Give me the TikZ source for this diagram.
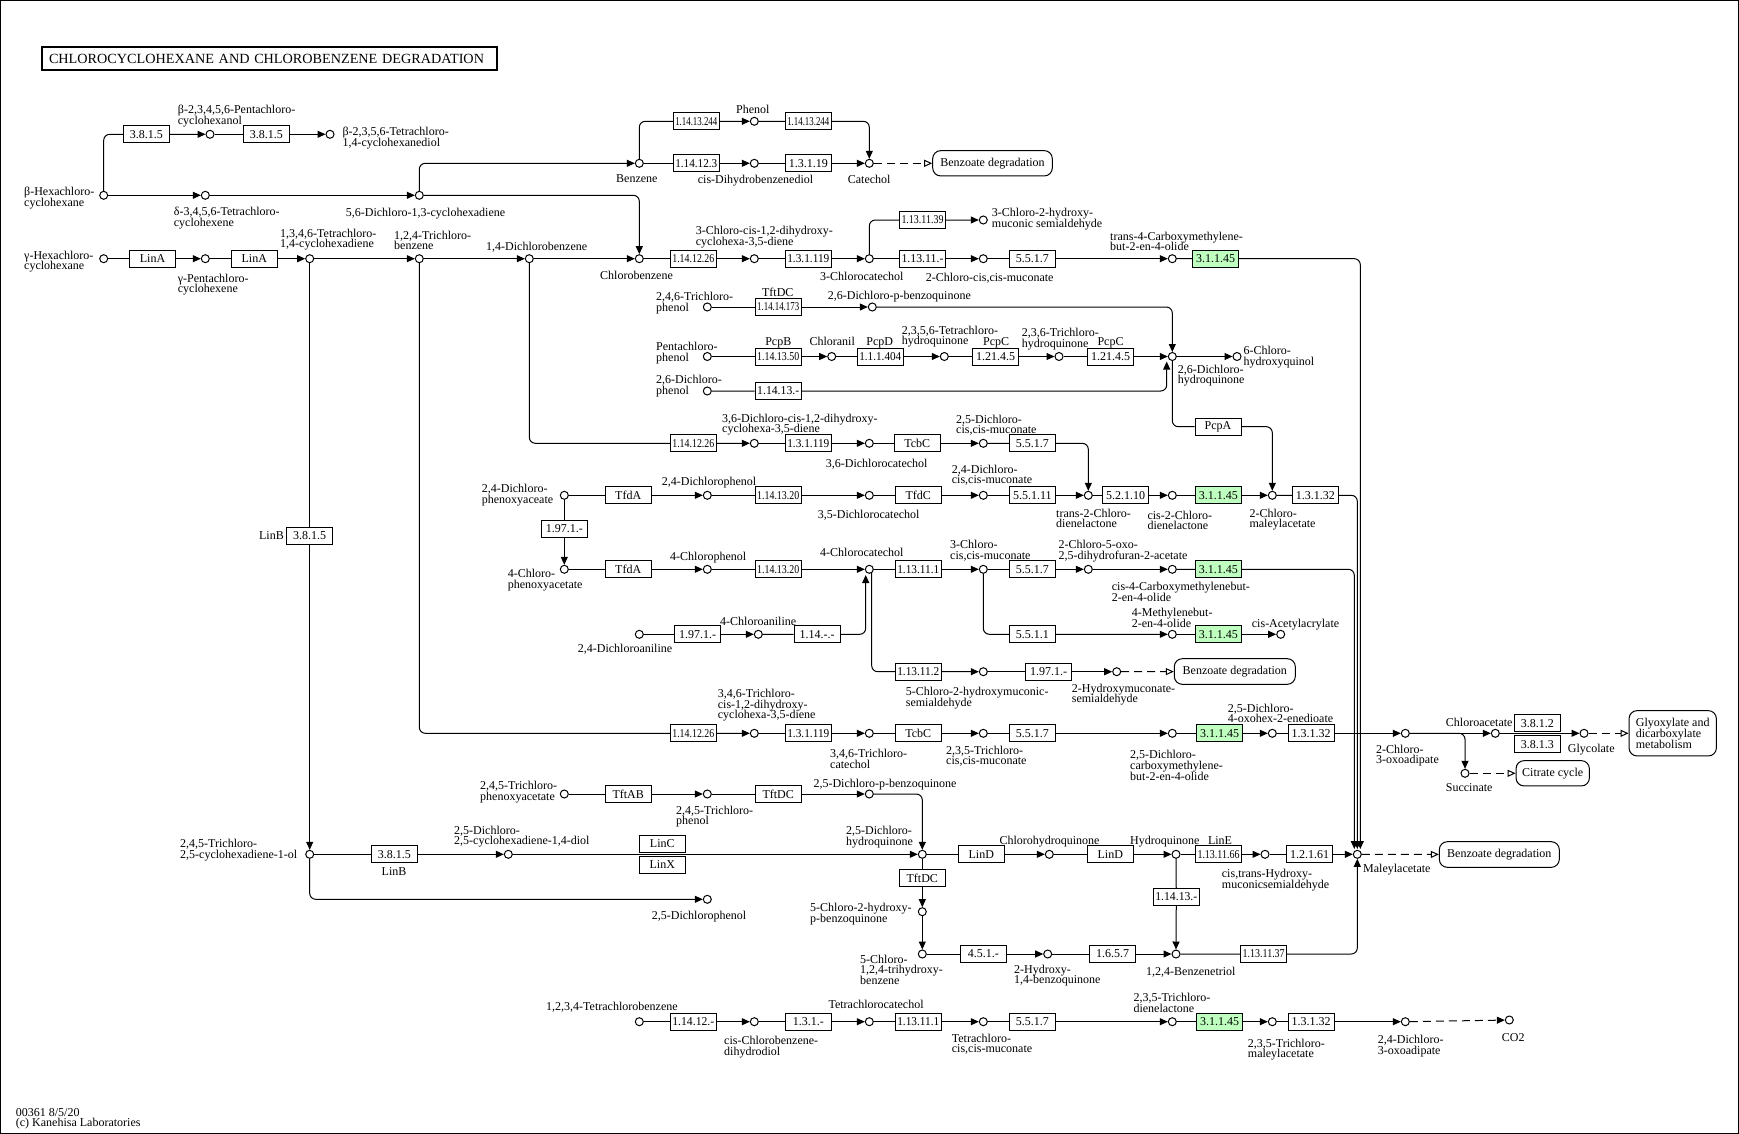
\documentclass[tikz,border=0pt]{standalone}
\usepackage{fontspec}
\setmainfont{Liberation Serif}
\usepackage{graphicx}
\usetikzlibrary{arrows.meta}
\definecolor{ecgreen}{RGB}{191,255,191}
\lineskiplimit=-20pt
\newsavebox\ecbox
\newcommand\ecn[1]{\sbox\ecbox{#1}\ifdim\wd\ecbox>42pt\resizebox{42pt}{\height}{#1}\else#1\fi}
\tikzset{
  cpd/.style={circle, draw, line width=1pt, fill=white, minimum size=8pt, inner sep=0pt},
  ec/.style={draw, line width=1pt, fill=white, minimum width=46pt, minimum height=17pt, inner sep=0pt},
  ecg/.style={ec, fill=ecgreen},
  mapbox/.style={draw, line width=1pt, rounded corners=8pt, inner sep=0pt, align=left},
  lbl/.style={inner sep=0pt, align=left, anchor=north west},
  elbl/.style={inner sep=0pt, anchor=north},
  rxn/.style={line width=1pt, rounded corners=6pt, -{Triangle[length=8pt,width=7pt]}},
  link/.style={line width=1pt, dash pattern=on 8pt off 5pt, -{Triangle[open,length=8pt,width=7pt]}}
}
\begin{document}
\begin{tikzpicture}[x=1pt,y=-1pt,every node/.append style={font=\fontsize{12}{10.6}\selectfont}]
\useasboundingbox (0,0) rectangle (1739,1134);
\draw[line width=1pt] (0.5,0.5) rectangle (1738.5,1133.5);
\node[draw, line width=2pt, minimum width=455pt, minimum height=23pt, inner sep=0pt, text width=441pt, align=left, font=\fontsize{14}{14}\selectfont] (title) at (269.5,58.5) {\resizebox{435pt}{\height}{CHLOROCYCLOHEXANE AND CHLOROBENZENE DEGRADATION}};
% compounds
\node[cpd] (bhch) at (103.7,195.3) {};
\node[cpd] (pcho) at (210,134.3) {};
\node[cpd] (tcd) at (330,134.3) {};
\node[cpd] (dtch) at (205.3,195.3) {};
\node[cpd] (dcd) at (419.3,195.3) {};
\node[cpd] (bz) at (639.3,163.3) {};
\node[cpd] (phe) at (754.3,121.3) {};
\node[cpd] (cdbd) at (754.3,163.3) {};
\node[cpd] (cat) at (869.3,163.3) {};
\node[cpd] (ghch) at (103.7,258.7) {};
\node[cpd] (gpch) at (205.3,258.7) {};
\node[cpd] (tcdn) at (309.7,258.7) {};
\node[cpd] (tcb) at (419.3,258.7) {};
\node[cpd] (dcb) at (529.3,258.7) {};
\node[cpd] (cb) at (639.3,258.7) {};
\node[cpd] (ccd) at (754.3,258.7) {};
\node[cpd] (ccat) at (869.3,258.7) {};
\node[cpd] (chms) at (983.3,220) {};
\node[cpd] (ccm) at (983.3,258.7) {};
\node[cpd] (tcmb) at (1172.3,258.7) {};
\node[cpd] (tcp) at (707.3,307) {};
\node[cpd] (dcbq) at (872.3,307) {};
\node[cpd] (pcp) at (707.3,356.5) {};
\node[cpd] (chl) at (831.7,356.5) {};
\node[cpd] (tchq) at (944.3,356.5) {};
\node[cpd] (trhq) at (1059,356.5) {};
\node[cpd] (dchq) at (1172.3,356.5) {};
\node[cpd] (chq6) at (1237,356.5) {};
\node[cpd] (dcp26) at (707.3,391) {};
\node[cpd] (dcd36) at (754.3,443.3) {};
\node[cpd] (dcc36) at (869.3,443.3) {};
\node[cpd] (dcm25) at (983.3,443.3) {};
\node[cpd] (dpa) at (564.3,495.3) {};
\node[cpd] (dcp24) at (707.3,495.3) {};
\node[cpd] (dcc35) at (869.3,495.3) {};
\node[cpd] (dcm24) at (983.3,495.3) {};
\node[cpd] (tcdl) at (1088.3,495.3) {};
\node[cpd] (ccdl) at (1172.3,495.3) {};
\node[cpd] (cma) at (1272.3,495.3) {};
\node[cpd] (cpa) at (564.3,569.3) {};
\node[cpd] (cp4) at (707.3,569.3) {};
\node[cpd] (cc4) at (869.3,569.3) {};
\node[cpd] (ccm3) at (983.3,569.3) {};
\node[cpd] (cdfa) at (1088.3,569.3) {};
\node[cpd] (ccmb) at (1172.3,569.3) {};
\node[cpd] (mbo) at (1172.3,634.3) {};
\node[cpd] (caa) at (1280.7,634.3) {};
\node[cpd] (dca) at (639.3,634.3) {};
\node[cpd] (ca4) at (758.3,634.3) {};
\node[cpd] (chms5) at (983.3,671.7) {};
\node[cpd] (hms) at (1116.7,671.7) {};
\node[cpd] (tcd346) at (754.3,733.3) {};
\node[cpd] (tcc346) at (869.3,733.3) {};
\node[cpd] (tcm235) at (983.3,733.3) {};
\node[cpd] (dccm) at (1172.3,733.3) {};
\node[cpd] (doh) at (1272.3,733.3) {};
\node[cpd] (coa) at (1405.3,733.3) {};
\node[cpd] (cla) at (1495.3,733.3) {};
\node[cpd] (gly) at (1584,733.3) {};
\node[cpd] (suc) at (1465,773.3) {};
\node[cpd] (tpa) at (564.3,794) {};
\node[cpd] (tcp245) at (707.3,794) {};
\node[cpd] (dcbq25) at (869.3,794) {};
\node[cpd] (tcol) at (309.7,854.3) {};
\node[cpd] (dcdl) at (508.3,854.3) {};
\node[cpd] (dchq25) at (922.3,854.3) {};
\node[cpd] (chq) at (1049.3,854.3) {};
\node[cpd] (hq) at (1176,854.3) {};
\node[cpd] (hmsa) at (1265,854.3) {};
\node[cpd] (mla) at (1357.3,854.3) {};
\node[cpd] (dcp25) at (707.3,899.3) {};
\node[cpd] (chbq) at (922.3,911.7) {};
\node[cpd] (cthb) at (922.3,954) {};
\node[cpd] (hbq) at (1047.7,954) {};
\node[cpd] (bt) at (1176,954) {};
\node[cpd] (tecb) at (639.3,1021.7) {};
\node[cpd] (ccbd) at (754.3,1021.7) {};
\node[cpd] (tecc) at (869.3,1021.7) {};
\node[cpd] (tecm) at (983.3,1021.7) {};
\node[cpd] (tcdl235) at (1172.3,1021.7) {};
\node[cpd] (tcma) at (1272.3,1021.7) {};
\node[cpd] (dcoa) at (1405.3,1021.7) {};
\node[cpd] (co2) at (1509.3,1020) {};
\coordinate (mlaT1) at (1354.3,849);
\coordinate (mlaT2) at (1357.3,849);
\coordinate (mlaT3) at (1360.3,849);
\coordinate (dchqB) at (1166.7,361.5);
\coordinate (cc4B) at (865.7,575);
\coordinate (cc4D) at (871.7,572.8);
% enzymes
\node[ec] (eA1) at (146.3,134.3) {\ecn{3.8.1.5}};
\node[ec] (eA2) at (266.3,134.3) {\ecn{3.8.1.5}};
\node[ec] (eBp1) at (696.3,121.3) {\ecn{1.14.13.244}};
\node[ec] (eBp2) at (808.3,121.3) {\ecn{1.14.13.244}};
\node[ec] (eB1) at (696.3,163.3) {\ecn{1.14.12.3}};
\node[ec] (eB2) at (808.3,163.3) {\ecn{1.3.1.19}};
\node[ec] (eE1) at (152.5,258.7) {LinA};
\node[ec] (eE2) at (254.3,258.7) {LinA};
\node[ec] (eE3) at (693.3,258.7) {\ecn{1.14.12.26}};
\node[ec] (eE4) at (808.3,258.7) {\ecn{1.3.1.119}};
\node[ec] (eD1) at (922.5,220) {\ecn{1.13.11.39}};
\node[ec] (eE5) at (922.5,258.7) {\ecn{1.13.11.-}};
\node[ec] (eE6) at (1032.3,258.7) {\ecn{5.5.1.7}};
\node[ecg] (eE7) at (1215.5,258.7) {\ecn{3.1.1.45}};
\node[ec] (eF1) at (778.2,307) {\ecn{1.14.14.173}};
\node[ec] (eG1) at (778.2,356.5) {\ecn{1.14.13.50}};
\node[ec] (eG2) at (880.3,356.5) {\ecn{1.1.1.404}};
\node[ec] (eG3) at (995.7,356.5) {\ecn{1.21.4.5}};
\node[ec] (eG4) at (1110.5,356.5) {\ecn{1.21.4.5}};
\node[ec] (eH1) at (778.2,391) {\ecn{1.14.13.-}};
\node[ec] (eI1) at (1218,426.7) {PcpA};
\node[ec] (eJ1) at (693.3,443.3) {\ecn{1.14.12.26}};
\node[ec] (eJ2) at (808.3,443.3) {\ecn{1.3.1.119}};
\node[ec] (eJ3) at (917.3,443.3) {TcbC};
\node[ec] (eJ4) at (1032.3,443.3) {\ecn{5.5.1.7}};
\node[ec] (eK1) at (628.2,495.3) {TfdA};
\node[ec] (eK2) at (778.2,495.3) {\ecn{1.14.13.20}};
\node[ec] (eK3) at (918.3,495.3) {TfdC};
\node[ec] (eK4) at (1032.3,495.3) {\ecn{5.5.1.11}};
\node[ec] (eK5) at (1125.5,495.3) {\ecn{5.2.1.10}};
\node[ecg] (eK6) at (1218.3,495.3) {\ecn{3.1.1.45}};
\node[ec] (eK7) at (1315.3,495.3) {\ecn{1.3.1.32}};
\node[ec] (eL1) at (564.3,528.7) {\ecn{1.97.1.-}};
\node[ec] (eM1) at (628.2,569.3) {TfdA};
\node[ec] (eM2) at (778.2,569.3) {\ecn{1.14.13.20}};
\node[ec] (eM3) at (918.3,569.3) {\ecn{1.13.11.1}};
\node[ec] (eM4) at (1032.3,569.3) {\ecn{5.5.1.7}};
\node[ecg] (eM5) at (1218.3,569.3) {\ecn{3.1.1.45}};
\node[ec] (eN1) at (1032.3,634.3) {\ecn{5.5.1.1}};
\node[ecg] (eN2) at (1218.3,634.3) {\ecn{3.1.1.45}};
\node[ec] (eN3) at (697.5,634.3) {\ecn{1.97.1.-}};
\node[ec] (eN4) at (817.2,634.3) {\ecn{1.14.-.-}};
\node[ec] (eO1) at (918.3,671.7) {\ecn{1.13.11.2}};
\node[ec] (eO2) at (1048.7,671.7) {\ecn{1.97.1.-}};
\node[ec] (eP1) at (693.3,733.3) {\ecn{1.14.12.26}};
\node[ec] (eP2) at (808.3,733.3) {\ecn{1.3.1.119}};
\node[ec] (eP3) at (918.3,733.3) {TcbC};
\node[ec] (eP4) at (1032.3,733.3) {\ecn{5.5.1.7}};
\node[ecg] (eP5) at (1219.5,733.3) {\ecn{3.1.1.45}};
\node[ec] (eP6) at (1311,733.3) {\ecn{1.3.1.32}};
\node[ec] (eP7) at (1537.3,723.3) {\ecn{3.8.1.2}};
\node[ec] (eP8) at (1537.3,744.2) {\ecn{3.8.1.3}};
\node[ec] (eR1) at (628.2,794) {TftAB};
\node[ec] (eR2) at (778.2,794) {TftDC};
\node[ec] (eLinB) at (309.7,535.7) {\ecn{3.8.1.5}};
\node[ec] (eS1) at (394.3,854.3) {\ecn{3.8.1.5}};
\node[ec] (eLinC) at (662.3,844) {LinC};
\node[ec] (eLinX) at (662.3,865) {LinX};
\node[ec] (eS2) at (981.3,854.3) {LinD};
\node[ec] (eS3) at (1110.3,854.3) {LinD};
\node[ec] (eS4) at (1218.5,854.3) {\ecn{1.13.11.66}};
\node[ec] (eS5) at (1309.5,854.3) {\ecn{1.2.1.61}};
\node[ec] (eU1) at (922.3,878) {TftDC};
\node[ec] (eV1) at (983.3,954) {\ecn{4.5.1.-}};
\node[ec] (eV2) at (1112.5,954) {\ecn{1.6.5.7}};
\node[ec] (eV3) at (1263.7,954) {\ecn{1.13.11.37}};
\node[ec] (eV4) at (1176.3,897) {\ecn{1.14.13.-}};
\node[ec] (eW1) at (693.3,1021.7) {\ecn{1.14.12.-}};
\node[ec] (eW2) at (808.3,1021.7) {\ecn{1.3.1.-}};
\node[ec] (eW3) at (918.3,1021.7) {\ecn{1.13.11.1}};
\node[ec] (eW4) at (1032.3,1021.7) {\ecn{5.5.1.7}};
\node[ecg] (eW5) at (1219.5,1021.7) {\ecn{3.1.1.45}};
\node[ec] (eW6) at (1311,1021.7) {\ecn{1.3.1.32}};
% maps
\node[mapbox, minimum width=119.6pt, minimum height=25.3pt] (mapBz1) at (992.5,163.3) {Benzoate degradation};
\node[mapbox, minimum width=121pt, minimum height=25.6pt] (mapBz2) at (1234.8,671.5) {Benzoate degradation};
\node[mapbox, minimum width=120pt, minimum height=25.6pt] (mapBz3) at (1499.3,854.5) {Benzoate degradation};
\node[mapbox, minimum width=87.3pt, minimum height=45.3pt] (mapGly) at (1672.7,733.3) {Glyoxylate and\\dicarboxylate\\metabolism};
\node[mapbox, minimum width=73.3pt, minimum height=25.3pt] (mapTca) at (1552.7,773.3) {Citrate cycle};
% labels
\node[lbl] (bhchL) at (24,187) {β-Hexachloro-\\cyclohexane};
\node[lbl] (pchoL) at (177.7,105.3) {β-2,3,4,5,6-Pentachloro-\\cyclohexanol};
\node[lbl] (tcdL) at (342.3,127) {β-2,3,5,6-Tetrachloro-\\1,4-cyclohexanediol};
\node[lbl] (dtchL) at (173.7,207.3) {δ-3,4,5,6-Tetrachloro-\\cyclohexene};
\node[lbl] (dcdL) at (345.7,207.6) {5,6-Dichloro-1,3-cyclohexadiene};
\node[lbl] (bzL) at (616,174.6) {Benzene};
\node[lbl] (pheL) at (736,105.3) {Phenol};
\node[lbl] (cdbdL) at (697.7,175.3) {cis-Dihydrobenzenediol};
\node[lbl] (catL) at (847.7,175.3) {Catechol};
\node[lbl] (ghchL) at (24,250.6) {γ-Hexachloro-\\cyclohexane};
\node[lbl] (gpchL) at (177.7,273.6) {γ-Pentachloro-\\cyclohexene};
\node[lbl] (tcdnL) at (280,228.6) {1,3,4,6-Tetrachloro-\\1,4-cyclohexadiene};
\node[lbl] (tcbL) at (394,230.6) {1,2,4-Trichloro-\\benzene};
\node[lbl] (dcbL) at (486,242.3) {1,4-Dichlorobenzene};
\node[lbl] (cbL) at (600,271.3) {Chlorobenzene};
\node[lbl] (ccdL) at (695.7,226.3) {3-Chloro-cis-1,2-dihydroxy-\\cyclohexa-3,5-diene};
\node[lbl] (ccatL) at (820,271.6) {3-Chlorocatechol};
\node[lbl] (chmsL) at (991.7,208.3) {3-Chloro-2-hydroxy-\\muconic semialdehyde};
\node[lbl] (ccmL) at (925.7,273.3) {2-Chloro-cis,cis-muconate};
\node[lbl] (tcmbL) at (1110,231.6) {trans-4-Carboxymethylene-\\but-2-en-4-olide};
\node[lbl] (tcpL) at (656,292.3) {2,4,6-Trichloro-\\phenol};
\node[elbl] (eF1n) at (777.8,288.3) {TftDC};
\node[lbl] (dcbqL) at (827.7,291) {2,6-Dichloro-p-benzoquinone};
\node[lbl] (pcpL) at (656,342.3) {Pentachloro-\\phenol};
\node[elbl] (eG1n) at (778.3,337) {PcpB};
\node[lbl] (chlL) at (809.3,337) {Chloranil};
\node[elbl] (eG2n) at (879.7,337) {PcpD};
\node[lbl] (tchqL) at (901.7,325.6) {2,3,5,6-Tetrachloro-\\hydroquinone};
\node[elbl] (eG3n) at (996.2,337) {PcpC};
\node[lbl] (trhqL) at (1021.7,328.3) {2,3,6-Trichloro-\\hydroquinone};
\node[elbl] (eG4n) at (1110.5,337) {PcpC};
\node[lbl] (chq6L) at (1243.3,346.3) {6-Chloro-\\hydroxyquinol};
\node[lbl] (dchqL) at (1177.7,364.6) {2,6-Dichloro-\\hydroquinone};
\node[lbl] (dcp26L) at (656,375.3) {2,6-Dichloro-\\phenol};
\node[lbl] (dcd36L) at (722,413.6) {3,6-Dichloro-cis-1,2-dihydroxy-\\cyclohexa-3,5-diene};
\node[lbl] (dcc36L) at (825.7,459) {3,6-Dichlorocatechol};
\node[lbl] (dcm25L) at (956,414.6) {2,5-Dichloro-\\cis,cis-muconate};
\node[lbl] (dpaL) at (481.7,484) {2,4-Dichloro-\\phenoxyaceate};
\node[lbl] (dcp24L) at (661.7,477) {2,4-Dichlorophenol};
\node[lbl] (dcc35L) at (817.7,510.3) {3,5-Dichlorocatechol};
\node[lbl] (dcm24L) at (951.7,464.6) {2,4-Dichloro-\\cis,cis-muconate};
\node[lbl] (tcdlL) at (1056,508.6) {trans-2-Chloro-\\dienelactone};
\node[lbl] (ccdlL) at (1147.3,510.6) {cis-2-Chloro-\\dienelactone};
\node[lbl] (cmaL) at (1249.3,508.6) {2-Chloro-\\maleylacetate};
\node[lbl] (cpaL) at (507.7,569) {4-Chloro-\\phenoxyacetate};
\node[lbl] (cp4L) at (670,552) {4-Chlorophenol};
\node[lbl] (cc4L) at (820,548.3) {4-Chlorocatechol};
\node[lbl] (ccm3L) at (950,540.3) {3-Chloro-\\cis,cis-muconate};
\node[lbl] (cdfaL) at (1058.3,540.3) {2-Chloro-5-oxo-\\2,5-dihydrofuran-2-acetate};
\node[lbl] (ccmbL) at (1111.7,582.3) {cis-4-Carboxymethylenebut-\\2-en-4-olide};
\node[lbl] (mboL) at (1131.7,608) {4-Methylenebut-\\2-en-4-olide};
\node[lbl] (caaL) at (1251.7,618.6) {cis-Acetylacrylate};
\node[lbl] (dcaL) at (577.7,643.6) {2,4-Dichloroaniline};
\node[lbl] (ca4L) at (720,617) {4-Chloroaniline};
\node[lbl] (chms5L) at (905.7,687) {5-Chloro-2-hydroxymuconic-\\semialdehyde};
\node[lbl] (hmsL) at (1071.7,683.6) {2-Hydroxymuconate-\\semialdehyde};
\node[lbl] (tcd346L) at (717.7,689) {3,4,6-Trichloro-\\cis-1,2-dihydroxy-\\cyclohexa-3,5-diene};
\node[lbl] (tcc346L) at (830,749) {3,4,6-Trichloro-\\catechol};
\node[lbl] (tcm235L) at (946,745.8) {2,3,5-Trichloro-\\cis,cis-muconate};
\node[lbl] (dccmL) at (1130,750.3) {2,5-Dichloro-\\carboxymethylene-\\but-2-en-4-olide};
\node[lbl] (dohL) at (1227.7,703.6) {2,5-Dichloro-\\4-oxohex-2-enedioate};
\node[lbl] (coaL) at (1376,744.6) {2-Chloro-\\3-oxoadipate};
\node[lbl] (claL) at (1445.7,718) {Chloroacetate};
\node[lbl] (glyL) at (1567.7,744) {Glycolate};
\node[lbl] (sucL) at (1445.7,783) {Succinate};
\node[lbl] (tpaL) at (480,781.3) {2,4,5-Trichloro-\\phenoxyacetate};
\node[lbl] (tcp245L) at (676,805.6) {2,4,5-Trichloro-\\phenol};
\node[lbl] (dcbq25L) at (813.3,778.6) {2,5-Dichloro-p-benzoquinone};
\node[lbl] (tcolL) at (180,839) {2,4,5-Trichloro-\\2,5-cyclohexadiene-1-ol};
\node[inner sep=0pt, anchor=east] (eLinBn) at (284,535.7) {LinB};
\node[elbl] (eS1n) at (394,867) {LinB};
\node[lbl] (dcdlL) at (454,825.6) {2,5-Dichloro-\\2,5-cyclohexadiene-1,4-diol};
\node[lbl] (dchq25L) at (846,826.3) {2,5-Dichloro-\\hydroquinone};
\node[lbl] (chqL) at (999.3,836.3) {Chlorohydroquinone};
\node[lbl] (hqL) at (1130,836.3) {Hydroquinone};
\node[elbl] (eS4n) at (1220,836.3) {LinE};
\node[lbl] (hmsaL) at (1221.7,869) {cis,trans-Hydroxy-\\muconicsemialdehyde};
\node[lbl] (mlaL) at (1363,863.6) {Maleylacetate};
\node[lbl] (dcp25L) at (651.7,911.3) {2,5-Dichlorophenol};
\node[lbl] (chbqL) at (810,903) {5-Chloro-2-hydroxy-\\p-benzoquinone};
\node[lbl] (cthbL) at (860,954.6) {5-Chloro-\\1,2,4-trihydroxy-\\benzene};
\node[lbl] (hbqL) at (1014,964.6) {2-Hydroxy-\\1,4-benzoquinone};
\node[lbl] (btL) at (1146,967) {1,2,4-Benzenetriol};
\node[lbl] (tecbL) at (546,1002.3) {1,2,3,4-Tetrachlorobenzene};
\node[lbl] (ccbdL) at (724,1036.3) {cis-Chlorobenzene-\\dihydrodiol};
\node[lbl] (teccL) at (828.3,1000.3) {Tetrachlorocatechol};
\node[lbl] (tecmL) at (951.7,1033.6) {Tetrachloro-\\cis,cis-muconate};
\node[lbl] (tcdl235L) at (1133.3,993) {2,3,5-Trichloro-\\dienelactone};
\node[lbl] (tcmaL) at (1247.7,1038.6) {2,3,5-Trichloro-\\maleylacetate};
\node[lbl] (dcoaL) at (1377.7,1035.3) {2,4-Dichloro-\\3-oxoadipate};
\node[lbl] (co2L) at (1501.7,1033.6) {CO2};
\node[lbl] (footer) at (15.7,1108) {00361 8/5/20\\(c) Kanehisa Laboratories};
% reactions
\draw[rxn] (bhch) |- (eA1) -- (pcho);
\draw[rxn] (pcho) -- (eA2) -- (tcd);
\draw[rxn] (bhch) -- (dtch);
\draw[rxn] (dtch) -- (dcd);
\draw[rxn] (dcd) |- (bz);
\draw[rxn] (dcd) -| (cb);
\draw[rxn] (bz) |- (eBp1) -- (phe);
\draw[rxn] (phe) -- (eBp2) -| (cat);
\draw[rxn] (bz) -- (eB1) -- (cdbd);
\draw[rxn] (cdbd) -- (eB2) -- (cat);
\draw[link] (cat) -- (mapBz1);
\draw[rxn] (ghch) -- (eE1) -- (gpch);
\draw[rxn] (gpch) -- (eE2) -- (tcdn);
\draw[rxn] (tcdn) -- (tcb);
\draw[rxn] (tcb) -- (dcb);
\draw[rxn] (dcb) -- (cb);
\draw[rxn] (cb) -- (eE3) -- (ccd);
\draw[rxn] (ccd) -- (eE4) -- (ccat);
\draw[rxn] (ccat) |- (eD1) -- (chms);
\draw[rxn] (ccat) -- (eE5) -- (ccm);
\draw[rxn] (ccm) -- (eE6) -- (tcmb);
\draw[rxn] (tcmb) -- (eE7) -| (mlaT3);
\draw[rxn] (tcp) -- (eF1) -- (dcbq);
\draw[rxn] (dcbq) -| (dchq);
\draw[rxn] (pcp) -- (eG1) -- (chl);
\draw[rxn] (chl) -- (eG2) -- (tchq);
\draw[rxn] (tchq) -- (eG3) -- (trhq);
\draw[rxn] (trhq) -- (eG4) -- (dchq);
\draw[rxn] (dchq) -- (chq6);
\draw[rxn] (dcp26) -- (eH1) -| (dchqB);
\draw[rxn] (dchq) |- (eI1) -| (cma);
\draw[rxn] (dcb) |- (eJ1) -- (dcd36);
\draw[rxn] (dcd36) -- (eJ2) -- (dcc36);
\draw[rxn] (dcc36) -- (eJ3) -- (dcm25);
\draw[rxn] (dcm25) -- (eJ4) -| (tcdl);
\draw[rxn] (dpa) -- (eK1) -- (dcp24);
\draw[rxn] (dcp24) -- (eK2) -- (dcc35);
\draw[rxn] (dcc35) -- (eK3) -- (dcm24);
\draw[rxn] (dcm24) -- (eK4) -- (tcdl);
\draw[rxn] (tcdl) -- (eK5) -- (ccdl);
\draw[rxn] (ccdl) -- (eK6) -- (cma);
\draw[rxn] (cma) -- (eK7) -| (mlaT2);
\draw[rxn] (dpa) -- (eL1) -- (cpa);
\draw[rxn] (cpa) -- (eM1) -- (cp4);
\draw[rxn] (cp4) -- (eM2) -- (cc4);
\draw[rxn] (cc4) -- (eM3) -- (ccm3);
\draw[rxn] (ccm3) -- (eM4) -- (cdfa);
\draw[rxn] (cdfa) -- (ccmb);
\draw[rxn] (ccmb) -- (eM5) -| (mlaT1);
\draw[rxn] (ccm3) |- (eN1) -- (mbo);
\draw[rxn] (mbo) -- (eN2) -- (caa);
\draw[rxn] (dca) -- (eN3) -- (ca4);
\draw[rxn] (ca4) -- (eN4) -| (cc4B);
\draw[rxn] (cc4D) |- (eO1) -- (chms5);
\draw[rxn] (chms5) -- (eO2) -- (hms);
\draw[link] (hms) -- (mapBz2);
\draw[rxn] (tcb) |- (eP1) -- (tcd346);
\draw[rxn] (tcd346) -- (eP2) -- (tcc346);
\draw[rxn] (tcc346) -- (eP3) -- (tcm235);
\draw[rxn] (tcm235) -- (eP4) -- (dccm);
\draw[rxn] (dccm) -- (eP5) -- (doh);
\draw[rxn] (doh) -- (eP6) -- (coa);
\draw[rxn] (coa) -- (cla);
\draw[rxn] (cla) -- (gly);
\draw[link] (gly) -- (mapGly);
\draw[rxn] (coa) -| (suc);
\draw[link] (suc) -- (mapTca);
\draw[rxn] (tpa) -- (eR1) -- (tcp245);
\draw[rxn] (tcp245) -- (eR2) -- (dcbq25);
\draw[rxn] (dcbq25) -| (dchq25);
\draw[rxn] (tcdn) -- (eLinB) -- (tcol);
\draw[rxn] (tcol) -- (eS1) -- (dcdl);
\draw[rxn] (dcdl) -- (dchq25);
\draw[rxn] (dchq25) -- (eS2) -- (chq);
\draw[rxn] (chq) -- (eS3) -- (hq);
\draw[rxn] (hq) -- (eS4) -- (hmsa);
\draw[rxn] (hmsa) -- (eS5) -- (mla);
\draw[link] (mla) -- (mapBz3);
\draw[rxn] (tcol) |- (dcp25);
\draw[rxn] (dchq25) -- (eU1) -- (chbq);
\draw[rxn] (chbq) -- (cthb);
\draw[rxn] (cthb) -- (eV1) -- (hbq);
\draw[rxn] (hbq) -- (eV2) -- (bt);
\draw[rxn] (bt) -- (eV3) -| (mla);
\draw[rxn] (hq) -- (eV4) -- (bt);
\draw[rxn] (tecb) -- (eW1) -- (ccbd);
\draw[rxn] (ccbd) -- (eW2) -- (tecc);
\draw[rxn] (tecc) -- (eW3) -- (tecm);
\draw[rxn] (tecm) -- (eW4) -- (tcdl235);
\draw[rxn] (tcdl235) -- (eW5) -- (tcma);
\draw[rxn] (tcma) -- (eW6) -- (dcoa);
\draw[rxn, dash pattern=on 8pt off 5pt] (dcoa) -- (co2);
\end{tikzpicture}
\end{document}
